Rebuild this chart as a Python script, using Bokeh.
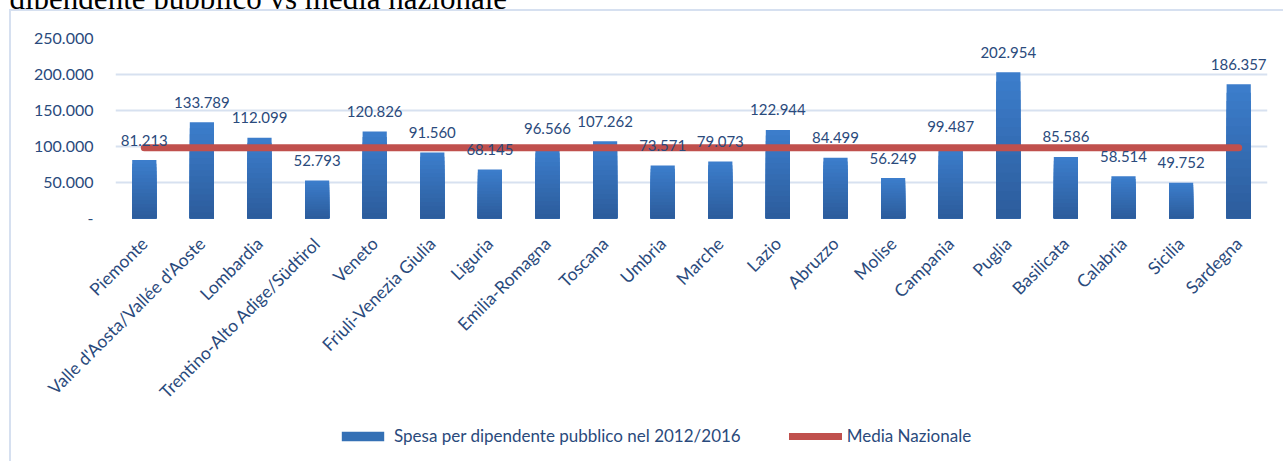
import math
from bokeh.plotting import figure
from bokeh.layouts import column
from bokeh.models import (FactorRange, Range1d, FixedTicker, Legend, LegendItem,
                          Label, LabelSet, ColumnDataSource)
from bokeh.core.properties import value
from bokeh.embed import file_html
from bokeh.resources import INLINE

# ---------------- data ----------------
regions = ["Piemonte", "Valle d'Aosta/Vallée d'Aoste", "Lombardia",
           "Trentino-Alto Adige/Südtirol", "Veneto", "Friuli-Venezia Giulia",
           "Liguria", "Emilia-Romagna", "Toscana", "Umbria", "Marche", "Lazio",
           "Abruzzo", "Molise", "Campania", "Puglia", "Basilicata", "Calabria",
           "Sicilia", "Sardegna"]
spesa = [81213, 133789, 112099, 52793, 120826, 91560, 68145, 96566, 107262,
         73571, 79073, 122944, 84499, 56249, 99487, 202954, 85586, 58514,
         49752, 186357]
media_nazionale = 98162
y_ticks = [0, 50000, 100000, 150000, 200000, 250000]
y_tick_labels = ["-", "50.000", "100.000", "150.000", "200.000", "250.000"]
title_text = "dipendente pubblico vs media nazionale"
series_name = "Spesa per dipendente pubblico nel 2012/2016"
line_name = "Media Nazionale"

# ---------------- styling ----------------
FONT = "Lato"
TXT = "#2A4A7C"
GRID = "#D7E1F0"
BORDER = "#D6E0F0"
RED = "#C0504D"
TOP_C = (0x3C, 0x7E, 0xCD)
BOT_C = (0x2C, 0x5C, 0x9B)
MID_C = "#3470B5"

W = 1283
H_TITLE, H_MAIN, H_LEG = 29, 407, 45
FL, FT, FB = 115, 29, 209          # frame left / top / bottom on the main canvas


def bare(height):
    f = figure(width=W, height=height, x_range=Range1d(0, 1), y_range=Range1d(0, 1),
               x_axis_type=None, y_axis_type=None, output_backend="svg",
               toolbar_location=None, min_border=0, frame_align=False)
    f.outline_line_color = None
    f.background_fill_color = None
    f.border_fill_color = None
    f.grid.visible = False
    return f


# ---------- cut-off heading ----------
tf = bare(H_TITLE)
tf.add_layout(Label(x=9, y=11, x_units="screen", y_units="screen", text=title_text,
                    text_font="Liberation Serif", text_font_size="31px",
                    text_color="black", text_baseline="alphabetic",
                    text_align="left"))

# ---------- main chart ----------
p = figure(x_range=FactorRange(factors=regions), y_range=Range1d(0, 250000),
           width=W, height=H_MAIN, output_backend="svg", toolbar_location=None,
           min_border_left=FL, min_border_right=16, min_border_top=FT,
           min_border_bottom=H_MAIN - FB, frame_align=False)
p.outline_line_color = None
p.background_fill_color = None
p.border_fill_color = None

# gradient bars: layered bars, lighter on top, darker towards the base
N = 16
for j in range(N):
    frac_top = (N - j) / N
    t = (N - j - 0.5) / N
    c = tuple(int(round(BOT_C[k] + (TOP_C[k] - BOT_C[k]) * t)) for k in range(3))
    p.vbar(x=regions, top=[v * frac_top for v in spesa], bottom=0,
           width=0.42, fill_color="#%02x%02x%02x" % c, line_color=None)

# national average line
p.segment(x0=[regions[0]], x1=[regions[-1]], y0=[media_nazionale],
          y1=[media_nazionale], line_color=RED, line_width=7, line_cap="round")

# data labels
lab_src = ColumnDataSource(dict(x=regions, y=spesa,
                                t=[f"{v:,}".replace(",", ".") for v in spesa]))
p.add_layout(LabelSet(x="x", y="y", text="t", source=lab_src, y_offset=20,
                      text_align="center", text_baseline="middle",
                      text_font=value(FONT), text_font_size="15px",
                      text_color=TXT))

# axes
p.yaxis.ticker = FixedTicker(ticks=y_ticks)
p.yaxis.major_label_overrides = {k: v for k, v in zip(y_ticks, y_tick_labels)}
p.yaxis.axis_line_color = None
p.yaxis.major_tick_line_color = None
p.yaxis.minor_tick_line_color = None
p.yaxis.major_tick_out = 0
p.yaxis.major_tick_in = 0
p.yaxis.major_label_standoff = 22
p.yaxis.major_label_text_font = FONT
p.yaxis.major_label_text_font_size = "16px"
p.yaxis.major_label_text_color = TXT

p.xaxis.major_label_orientation = math.pi / 4
p.xaxis.axis_line_color = None
p.xaxis.major_tick_line_color = None
p.xaxis.major_tick_out = 0
p.xaxis.major_tick_in = 0
p.xaxis.major_label_standoff = 22
p.xaxis.major_label_text_font = FONT
p.xaxis.major_label_text_font_size = "17.5px"
p.xaxis.major_label_text_color = TXT

p.xgrid.grid_line_color = None
p.ygrid.grid_line_color = GRID
p.ygrid.grid_line_width = 2

# ---------- legend strip ----------
lf = bare(H_LEG)
# legend-key proxies (kept outside the strip's visible range)
leg_bar = lf.vbar(x=[-5], top=[-5], bottom=[-6], width=1, fill_color=MID_C,
                  line_color=None)
leg_line = lf.segment(x0=[-6], x1=[-5], y0=[-5], y1=[-5], line_color=RED,
                      line_width=7, line_cap="round")
legend = Legend(items=[LegendItem(label=series_name, renderers=[leg_bar]),
                       LegendItem(label=line_name, renderers=[leg_line])],
                location=(336, 15), orientation="horizontal",
                glyph_width=53, glyph_height=12, label_height=12,
                label_standoff=5, spacing=48, padding=0, margin=0,
                border_line_color=None, background_fill_alpha=0,
                label_text_font=FONT, label_text_font_size="17px",
                label_text_color=TXT, label_text_baseline="middle")
lf.add_layout(legend)

bg = (f"linear-gradient({BORDER}, {BORDER}) 9px 29px / 2px calc(100% - 29px) no-repeat, "
      f"linear-gradient({BORDER}, {BORDER}) 9px 29px / calc(100% - 9px) 2px no-repeat, "
      "#ffffff")
layout = column(tf, p, lf, spacing=0, margin=(-20, 0, 0, 0),
                styles={"background": bg})

open("out.html", "w").write(file_html(layout, INLINE))
